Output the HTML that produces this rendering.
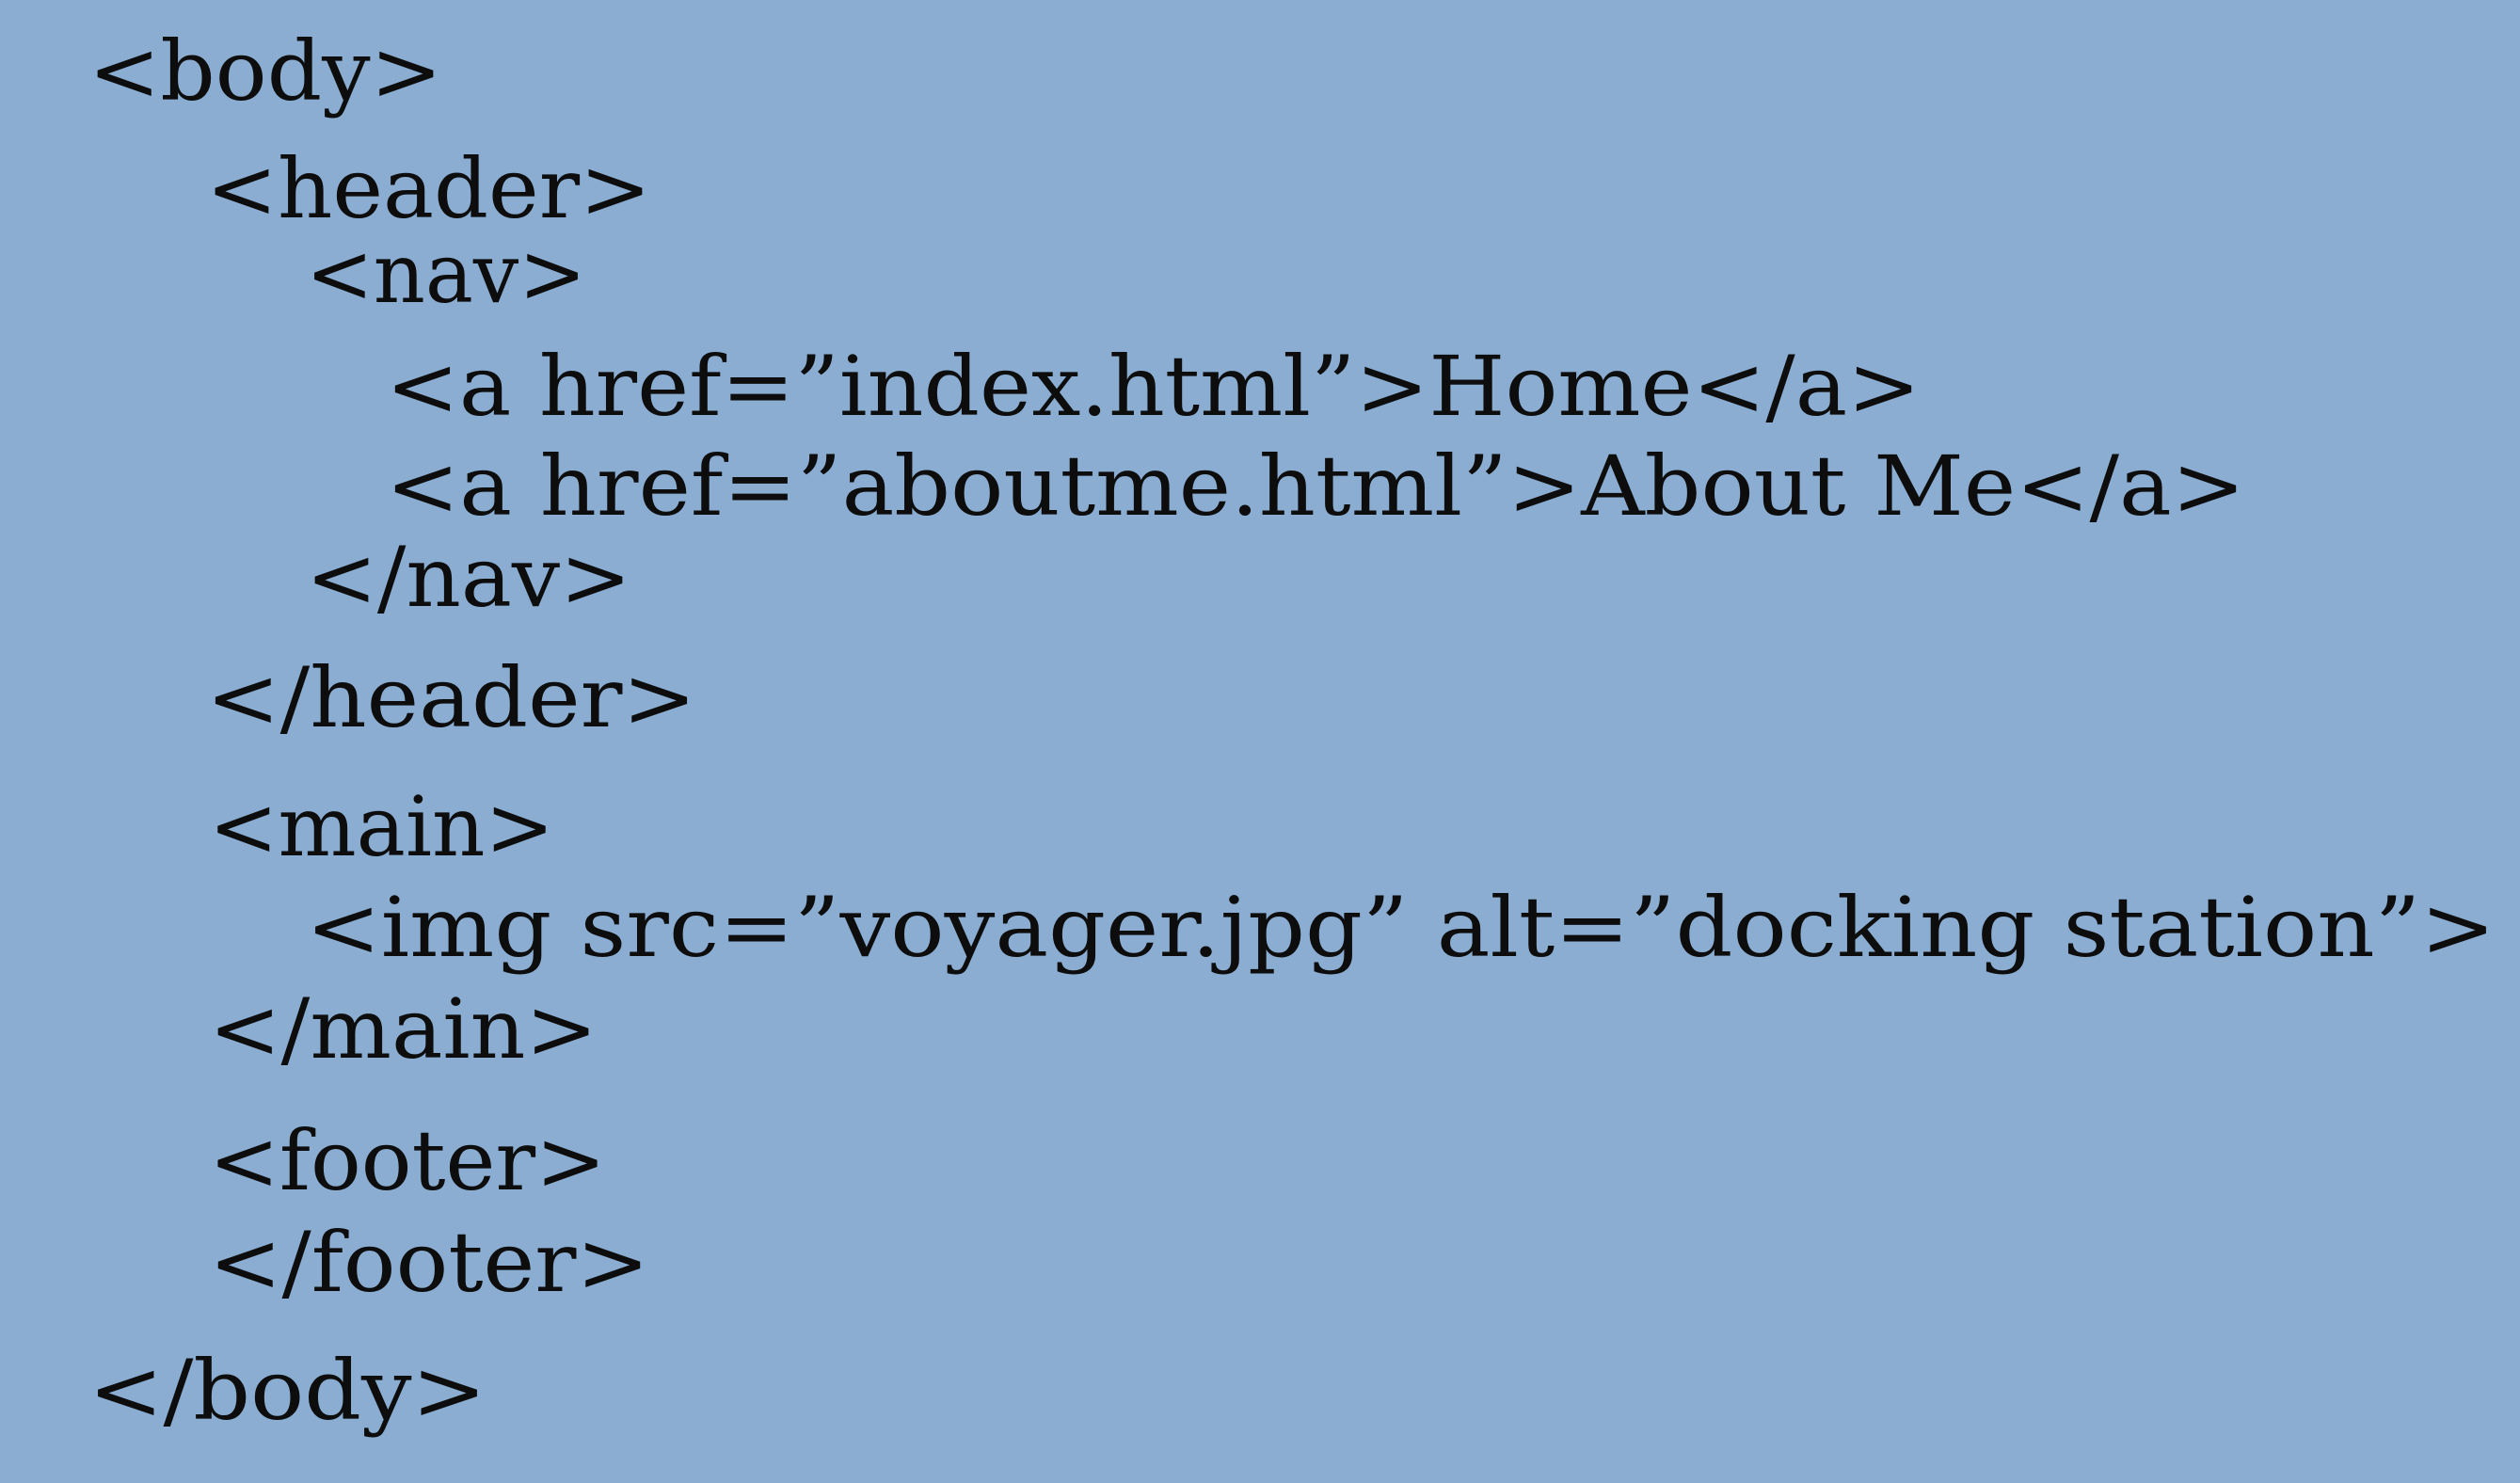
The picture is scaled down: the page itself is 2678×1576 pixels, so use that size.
<!DOCTYPE html>
<html><head><meta charset="utf-8"><style>
html,body{margin:0;padding:0;background:#8aadd1;}
svg{display:block;}
text{font-family:"DejaVu Serif","Liberation Serif",serif;font-size:88px;fill:#0d0d0d;}
</style></head><body>
<svg width="2678" height="1576" viewBox="0 0 2678 1576" xmlns="http://www.w3.org/2000/svg">
<rect width="2678" height="1576" fill="#8aadd1"/>
<text x="94" y="106" textLength="376" lengthAdjust="spacingAndGlyphs">&lt;body&gt;</text>
<text x="219" y="231" textLength="473" lengthAdjust="spacingAndGlyphs">&lt;header&gt;</text>
<text x="325" y="321" textLength="298" lengthAdjust="spacingAndGlyphs">&lt;nav&gt;</text>
<text x="410" y="441" textLength="1631" lengthAdjust="spacingAndGlyphs">&lt;a href=”index.html”&gt;Home&lt;/a&gt;</text>
<text x="410" y="547" textLength="1976" lengthAdjust="spacingAndGlyphs">&lt;a href=”aboutme.html”&gt;About Me&lt;/a&gt;</text>
<text x="325" y="644" textLength="346" lengthAdjust="spacingAndGlyphs">&lt;/nav&gt;</text>
<text x="219" y="772" textLength="521" lengthAdjust="spacingAndGlyphs">&lt;/header&gt;</text>
<text x="222" y="909" textLength="367" lengthAdjust="spacingAndGlyphs">&lt;main&gt;</text>
<text x="325" y="1016" textLength="2327" lengthAdjust="spacingAndGlyphs">&lt;img src=”voyager.jpg” alt=”docking station”&gt;</text>
<text x="222" y="1124" textLength="413" lengthAdjust="spacingAndGlyphs">&lt;/main&gt;</text>
<text x="222" y="1264" textLength="422" lengthAdjust="spacingAndGlyphs">&lt;footer&gt;</text>
<text x="222" y="1372" textLength="468" lengthAdjust="spacingAndGlyphs">&lt;/footer&gt;</text>
<text x="94" y="1508" textLength="423" lengthAdjust="spacingAndGlyphs">&lt;/body&gt;</text>
</svg>
</body></html>
